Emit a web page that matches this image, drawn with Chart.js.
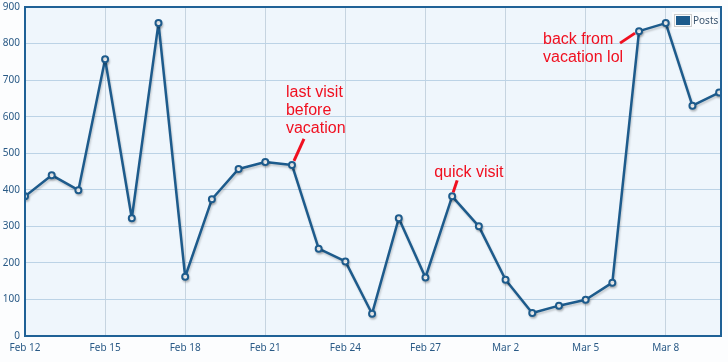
<!DOCTYPE html>
<html>
<head>
<meta charset="utf-8">
<script src="https://cdn.jsdelivr.net/npm/chart.js@4/dist/chart.umd.min.js"></script>
<style>
    html, body { margin: 0; padding: 0; background: #fcfdfe; }
    #wrap { width: 728px; height: 362px; position: relative; }
</style>
</head>
<body>
<div id="wrap"><canvas id="postsChart" width="728" height="362"></canvas></div>
<script>
// daily post counts, Feb 12 - Mar 10
const categories = [
    'Feb 12', 'Feb 13', 'Feb 14', 'Feb 15', 'Feb 16', 'Feb 17', 'Feb 18',
    'Feb 19', 'Feb 20', 'Feb 21', 'Feb 22', 'Feb 23', 'Feb 24', 'Feb 25',
    'Feb 26', 'Feb 27', 'Feb 28', 'Mar 1', 'Mar 2', 'Mar 3', 'Mar 4',
    'Mar 5', 'Mar 6', 'Mar 7', 'Mar 8', 'Mar 9', 'Mar 10'
];
const postValues = [
    382, 440, 399, 757, 322, 856, 162,
    374, 457, 476, 468, 239, 204, 61,
    322, 160, 382, 300, 154, 63, 83,
    99, 146, 834, 856, 630, 666
];
const xTickLabels = ['Feb 12', 'Feb 15', 'Feb 18', 'Feb 21', 'Feb 24', 'Feb 27', 'Mar 2', 'Mar 5', 'Mar 8'];
const yTickValues = [0, 100, 200, 300, 400, 500, 600, 700, 800, 900];
const seriesName = 'Posts';

const notes = [
    { at: 'Feb 22', lines: ['last visit', 'before', 'vacation'] },
    { at: 'Feb 28', lines: ['quick visit'] },
    { at: 'Mar 7', lines: ['back from', 'vacation lol'] }
];

const lineBlue = '#1d5b8c';
const frameBlue = '#1f6196';

// where each note sits relative to its point (pixels)
const noteLayout = {
    'Feb 22': { tx: -6, ty: -72, l1: [2, -4], l2: [12, -26] },
    'Feb 28': { tx: -18, ty: -24, l1: [1, -4], l2: [5, -16] },
    'Mar 7': { tx: -96, ty: 8, l1: [-4, 2], l2: [-19, 12] }
};

const plotBackground = {
    id: 'plotBackground',
    beforeDraw(chart) {
        const { ctx, chartArea: a } = chart;
        ctx.save();
        ctx.fillStyle = '#eff6fc';
        ctx.fillRect(a.left, a.top, a.right - a.left, a.bottom - a.top);
        ctx.restore();
    },
    afterDraw(chart) {
        const { ctx, chartArea: a } = chart;
        ctx.save();
        ctx.strokeStyle = frameBlue;
        ctx.lineWidth = 2;
        ctx.strokeRect(a.left, a.top, a.right - a.left, a.bottom - a.top);
        ctx.restore();
    }
};

const lineShadow = {
    id: 'lineShadow',
    beforeDatasetsDraw(chart) {
        const ctx = chart.ctx;
        ctx.save();
        ctx.shadowColor = 'rgba(0, 0, 0, 0.18)';
        ctx.shadowOffsetX = 1;
        ctx.shadowOffsetY = 2;
        ctx.shadowBlur = 2;
    },
    afterDatasetsDraw(chart) {
        chart.ctx.restore();
    }
};

const notesPlugin = {
    id: 'notes',
    afterDatasetsDraw(chart) {
        const { ctx, scales } = chart;
        ctx.save();
        ctx.font = '16px "Liberation Sans", Arial, sans-serif';
        ctx.fillStyle = '#f01020';
        ctx.strokeStyle = '#f01020';
        ctx.lineWidth = 3;
        ctx.textBaseline = 'middle';
        ctx.textAlign = 'left';
        notes.forEach(n => {
            const i = categories.indexOf(n.at);
            const px = scales.x.getPixelForValue(i);
            const py = scales.y.getPixelForValue(postValues[i]);
            const lay = noteLayout[n.at];
            ctx.beginPath();
            ctx.moveTo(px + lay.l1[0], py + lay.l1[1]);
            ctx.lineTo(px + lay.l2[0], py + lay.l2[1]);
            ctx.stroke();
            n.lines.forEach((t, k) => {
                ctx.fillText(t, px + lay.tx, py + lay.ty + k * 18);
            });
        });
        ctx.restore();
    }
};

const legendBox = {
    id: 'legendBox',
    afterDraw(chart) {
        const { ctx, chartArea: a } = chart;
        ctx.save();
        const x = a.right - 47;
        const y = a.top + 7;
        ctx.fillStyle = 'rgba(255, 255, 255, 0.7)';
        ctx.fillRect(x - 2, y - 2, 46, 17);
        ctx.strokeStyle = '#cccccc';
        ctx.lineWidth = 1;
        ctx.strokeRect(x + 0.5, y + 0.5, 17, 12);
        ctx.fillStyle = lineBlue;
        ctx.fillRect(x + 2, y + 2, 14, 9);
        ctx.fillStyle = '#3b5570';
        ctx.font = '10px "Noto Sans", sans-serif';
        ctx.textBaseline = 'middle';
        ctx.fillText(seriesName, x + 19, y + 7);
        ctx.restore();
    }
};

new Chart(document.getElementById('postsChart'), {
    type: 'line',
    data: {
        datasets: [{
            label: seriesName,
            data: categories.map((c, i) => ({ x: i, y: postValues[i] })),
            borderColor: lineBlue,
            borderWidth: 2.5,
            borderJoinStyle: 'round',
            backgroundColor: '#ffffff',
            pointBackgroundColor: '#ffffff',
            pointBorderColor: lineBlue,
            pointBorderWidth: 2,
            pointRadius: 3,
            tension: 0,
            fill: false
        }]
    },
    options: {
        responsive: false,
        animation: false,
        layout: { padding: { top: 7, right: 7, left: 0, bottom: 0 } },
        plugins: {
            legend: { display: false },
            tooltip: { enabled: false }
        },
        scales: {
            x: {
                type: 'linear',
                min: 0,
                max: 26.07,
                afterFit: (s) => { s.height = 26; },
                ticks: {
                    stepSize: 3,
                    includeBounds: false,
                    autoSkip: false,
                    maxRotation: 0,
                    padding: 6,
                    color: '#2a5a86',
                    font: { family: '"Noto Sans", sans-serif', size: 10 },
                    callback: (v) => (v % 3 === 0 ? xTickLabels[v / 3] : '')
                },
                grid: { color: '#c6d4e0', drawTicks: false },
                border: { display: false }
            },
            y: {
                min: 0,
                max: 900,
                afterFit: (s) => {
                    s.width = 25;
                    s.paddingTop = 0;
                    s.paddingBottom = 0;
                },
                afterBuildTicks: (s) => { s.ticks = yTickValues.map(v => ({ value: v })); },
                ticks: {
                    padding: 5,
                    color: '#2a5a86',
                    font: { family: '"Noto Sans", sans-serif', size: 10 }
                },
                grid: { color: '#bcd3e6', drawTicks: false },
                border: { display: false }
            }
        }
    },
    plugins: [plotBackground, lineShadow, notesPlugin, legendBox]
});
</script>
</body>
</html>
